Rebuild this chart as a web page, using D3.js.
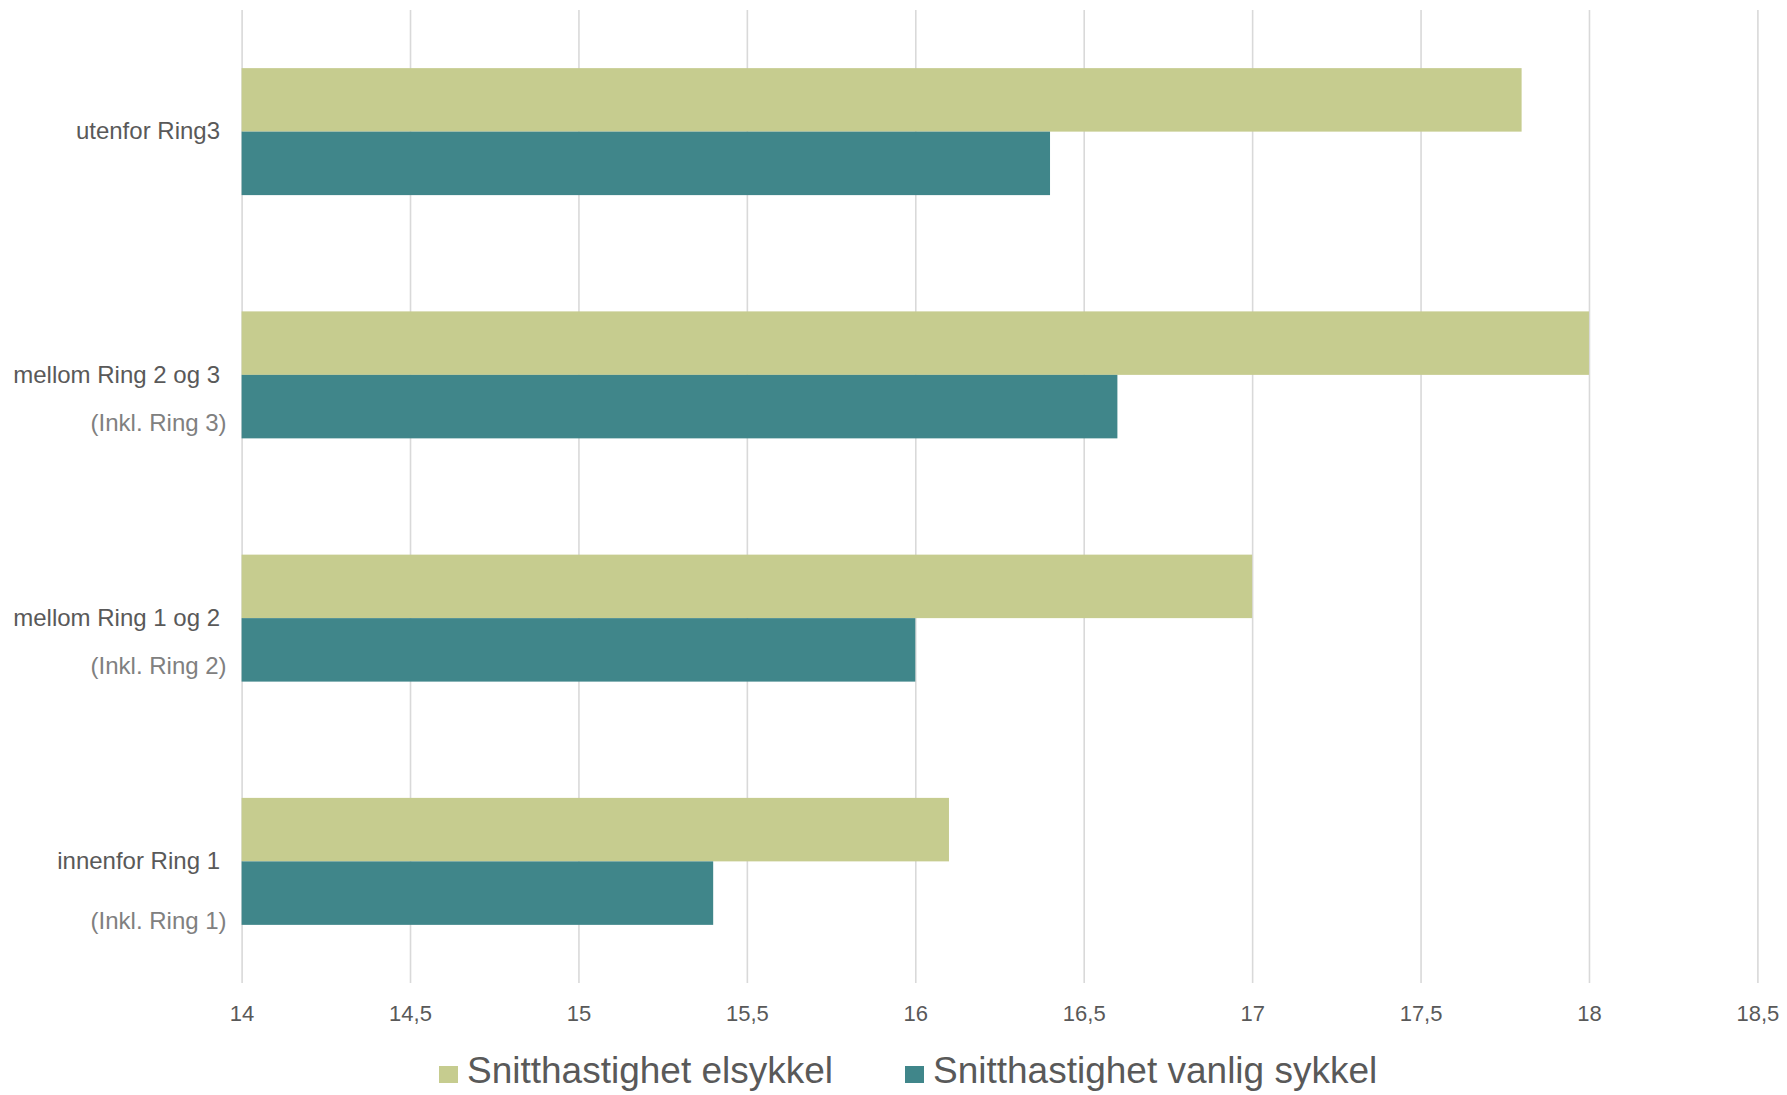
<!DOCTYPE html>
<html>
<head>
<meta charset="utf-8">
<script src="https://cdn.jsdelivr.net/npm/d3@7"></script>
<style>
  html, body { margin: 0; padding: 0; background: #ffffff; }
  svg { display: block; font-family: "Liberation Sans", Arial, sans-serif; }
</style>
</head>
<body>
<svg id="chart" width="1787" height="1095"></svg>
<script>
// Average cycling speed (km/h) by zone, e-bike vs. ordinary bike
const categories = ["utenfor Ring3", "mellom Ring 2 og 3", "mellom Ring 1 og 2", "innenfor Ring 1"];
const subLabels = ["", "(Inkl. Ring 3)", "(Inkl. Ring 2)", "(Inkl. Ring 1)"];
const seriesNames = ["Snitthastighet elsykkel", "Snitthastighet vanlig sykkel"];
const elsykkel = [17.8, 18.0, 17.0, 16.1];
const vanligSykkel = [16.4, 16.6, 16.0, 15.4];
const xTicks = [14, 14.5, 15, 15.5, 16, 16.5, 17, 17.5, 18, 18.5];

const colors = ["#c6cc8f", "#40868a"];
const textColor = "#595959";
const subColor = "#808080";
const gridColor = "#d9d9d9";

const svg = d3.select("#chart");
const plot = { left: 241.6, right: 1757.4, top: 10, bottom: 983 };

const x = d3.scaleLinear().domain([14, 18.5]).range([plot.left, plot.right]);
const y = d3.scaleBand().domain(categories).range([plot.top, plot.bottom])
  .paddingInner(0.478).paddingOuter(0.239);
const ySeries = d3.scaleBand().domain([0, 1]).range([0, y.bandwidth()]);

// vertical gridlines + tick labels
const fmt = d => String(d).replace(".", ",");
const xAxis = svg.append("g")
  .attr("transform", `translate(0,${plot.bottom})`)
  .call(d3.axisBottom(x).tickValues(xTicks).tickFormat(fmt)
    .tickSizeInner(-(plot.bottom - plot.top)).tickSizeOuter(0).tickPadding(22.4));
xAxis.select(".domain").remove();
xAxis.selectAll(".tick line").attr("stroke", gridColor).attr("stroke-width", 1.6);
xAxis.selectAll(".tick text")
  .attr("fill", textColor).attr("font-size", 22)
  .attr("font-family", "'Liberation Sans', Arial, sans-serif");

// bars
const rows = categories.map((c, i) => ({ cat: c, values: [elsykkel[i], vanligSykkel[i]] }));
const groups = svg.append("g").selectAll("g").data(rows).join("g")
  .attr("transform", d => `translate(0,${y(d.cat)})`);
groups.selectAll("rect").data(d => d.values.map((v, s) => ({ v, s }))).join("rect")
  .attr("x", x(14))
  .attr("y", d => ySeries(d.s))
  .attr("width", d => x(d.v) - x(14))
  .attr("height", ySeries.bandwidth())
  .attr("fill", d => colors[d.s]);

// category labels
const yAxis = svg.append("g")
  .attr("transform", `translate(${plot.left},0)`)
  .call(d3.axisLeft(y).tickSize(0).tickPadding(21.6));
yAxis.select(".domain").remove();
yAxis.selectAll(".tick text")
  .attr("fill", textColor).attr("font-size", 24)
  .attr("font-family", "'Liberation Sans', Arial, sans-serif");

// secondary line under each category label
const subGap = [0, 48, 48, 60];
yAxis.selectAll(".tick").each(function (d, i) {
  if (!subLabels[i]) return;
  d3.select(this).append("text")
    .attr("x", -15)
    .attr("y", subGap[i])
    .attr("dy", "0.32em")
    .attr("text-anchor", "end")
    .attr("fill", subColor)
    .attr("font-size", 24)
    .text(subLabels[i]);
});

// legend
const legend = svg.append("g").attr("transform", "translate(439,1066)");
const legendX = [0, 466];
const items = legend.selectAll("g").data(seriesNames).join("g")
  .attr("transform", (d, i) => `translate(${legendX[i]},0)`);
items.append("rect").attr("width", 19).attr("height", 17).attr("fill", (d, i) => colors[i]);
items.append("text")
  .attr("x", 28).attr("y", 17)
  .attr("fill", textColor).attr("font-size", 37)
  .text(d => d);
</script>
</body>
</html>
